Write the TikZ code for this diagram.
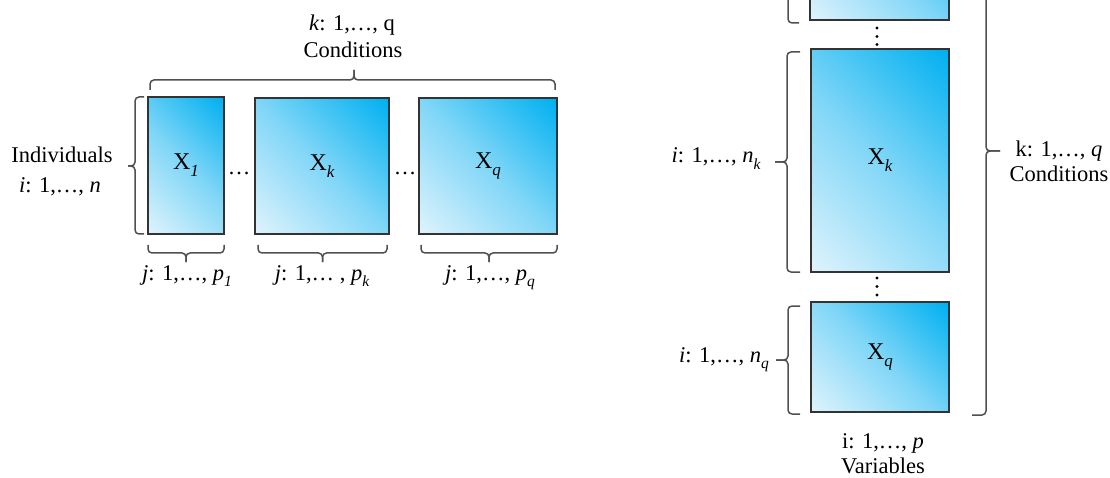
\documentclass[tikz,border=0pt]{standalone}
\usepackage{fontspec}
\setmainfont{Liberation Serif}
\definecolor{dkblue}{RGB}{0,176,240}
\definecolor{midblue}{RGB}{128,214,247}
\definecolor{ltblue}{RGB}{222,243,252}
\definecolor{brgray}{RGB}{80,80,80}
\pgfdeclarehorizontalshading{diagblue}{100bp}{color(0bp)=(ltblue); color(15bp)=(ltblue); color(50bp)=(midblue); color(85bp)=(dkblue); color(100bp)=(dkblue)}
\newcommand{\subsc}[1]{\raisebox{-0.28em}{\fontsize{15.5}{15.5}\selectfont\itshape #1}}
\newcommand{\boxsub}[1]{\raisebox{-0.3em}{\fontsize{17}{17}\selectfont\itshape #1}}
\begin{document}
\begin{tikzpicture}[x=1pt,y=-1pt,
  mat/.style={rectangle, draw=black!80, line width=1.3pt, inner sep=0pt,
    shading=diagblue, shading angle=45,
    font=\fontsize{24}{28}\selectfont},
  lbl/.style={inner sep=0pt, anchor=base, font=\fontsize{22.5}{26}\selectfont},
  brc/.style={draw=brgray, line width=1.5pt, rounded corners=4pt},
  vdot/.style={fill=black, circle, inner sep=0pt, minimum size=3.2pt}]
\useasboundingbox (0,0) rectangle (1110,478);
\clip (0,0) rectangle (1110,478);

% ---------- left diagram ----------
\node[mat, minimum width=76pt, minimum height=137pt] (L1) at (186,165.5) {X\boxsub{1}};
\node[mat, minimum width=134pt, minimum height=136pt] (Lk) at (322,166) {X\boxsub{k}};
\node[mat, minimum width=138pt, minimum height=136pt] (Lq) at (488,166) {X\boxsub{q}};
\node[lbl] (d1) at (239,175) {…};
\node[lbl] (d2) at (405,175) {…};

\node[lbl] (ktop) at (352,31) {\textit{k}: 1,…, q};
\node[lbl] (condtop) at (353,58) {Conditions};
\node[lbl] (indiv) at (62,163) {Individuals};
\node[lbl] (ileft) at (60,193) {\textit{i}: 1,…, \textit{n}};
\node[lbl] (j1) at (187,280) {\textit{j}: 1,…, \textit{p}\subsc{1}};
\node[lbl] (jk) at (322,280) {\textit{j}: 1,… , \textit{p}\subsc{k}};
\node[lbl] (jq) at (490,280) {\textit{j}: 1,…, \textit{p}\subsc{q}};

% braces
\draw[brc] (150,90) |- (354,80) -- (354,70);
\draw[brc] (555,90) |- (354,80) -- (354,70);
\draw[brc] (144,97) -| (135,166) -- (128,166);
\draw[brc] (144,234) -| (135,166) -- (128,166);
\draw[brc] (148,245) |- (186,253) -- (186,262);
\draw[brc] (224,245) |- (186,253) -- (186,262);
\draw[brc] (258,245) |- (322.5,253) -- (322.5,262);
\draw[brc] (387,245) |- (322.5,253) -- (322.5,262);
\draw[brc] (421,245) |- (489,253) -- (489,262);
\draw[brc] (557,245) |- (489,253) -- (489,262);

% ---------- right diagram ----------
\node[mat, minimum width=139pt, minimum height=120pt] (R1) at (879.5,-40) {};
\node[mat, minimum width=138pt, minimum height=223pt] (Rk) at (880,160.5) {X\boxsub{k}};
\node[mat, minimum width=138pt, minimum height=110pt] (Rq) at (880,357) {X\boxsub{q}};
\node[vdot] (v1) at (877,28) {};
\node[vdot] (v2) at (877,36.5) {};
\node[vdot] (v3) at (877,44.5) {};
\node[vdot] (v4) at (877,278) {};
\node[vdot] (v5) at (877,286.5) {};
\node[vdot] (v6) at (877,295) {};

\node[lbl] (ink) at (716,163) {\textit{i}: 1,…, \textit{n}\subsc{k}};
\node[lbl] (inq) at (724,362) {\textit{i}: 1,…, \textit{n}\subsc{q}};
\node[lbl] (kright) at (1059,157) {k: 1,…, \textit{q}};
\node[lbl] (condright) at (1059,182) {Conditions};
\node[lbl] (ip) at (883,448) {i: 1,…, \textit{p}};
\node[lbl] (vars) at (883,473) {Variables};

\draw[brc] (799,23) -| (788,-80);
\draw[brc] (800,52) -| (787,162) -- (775,162);
\draw[brc] (800,272) -| (787,162) -- (775,162);
\draw[brc] (800,306) -| (788,360) -- (776,360);
\draw[brc] (800,414) -| (788,360) -- (776,360);
\draw[brc] (972,415) -| (986,151) -- (1000,151);
\draw[brc] (972,-113) -| (986,151) -- (1000,151);
\end{tikzpicture}
\end{document}
